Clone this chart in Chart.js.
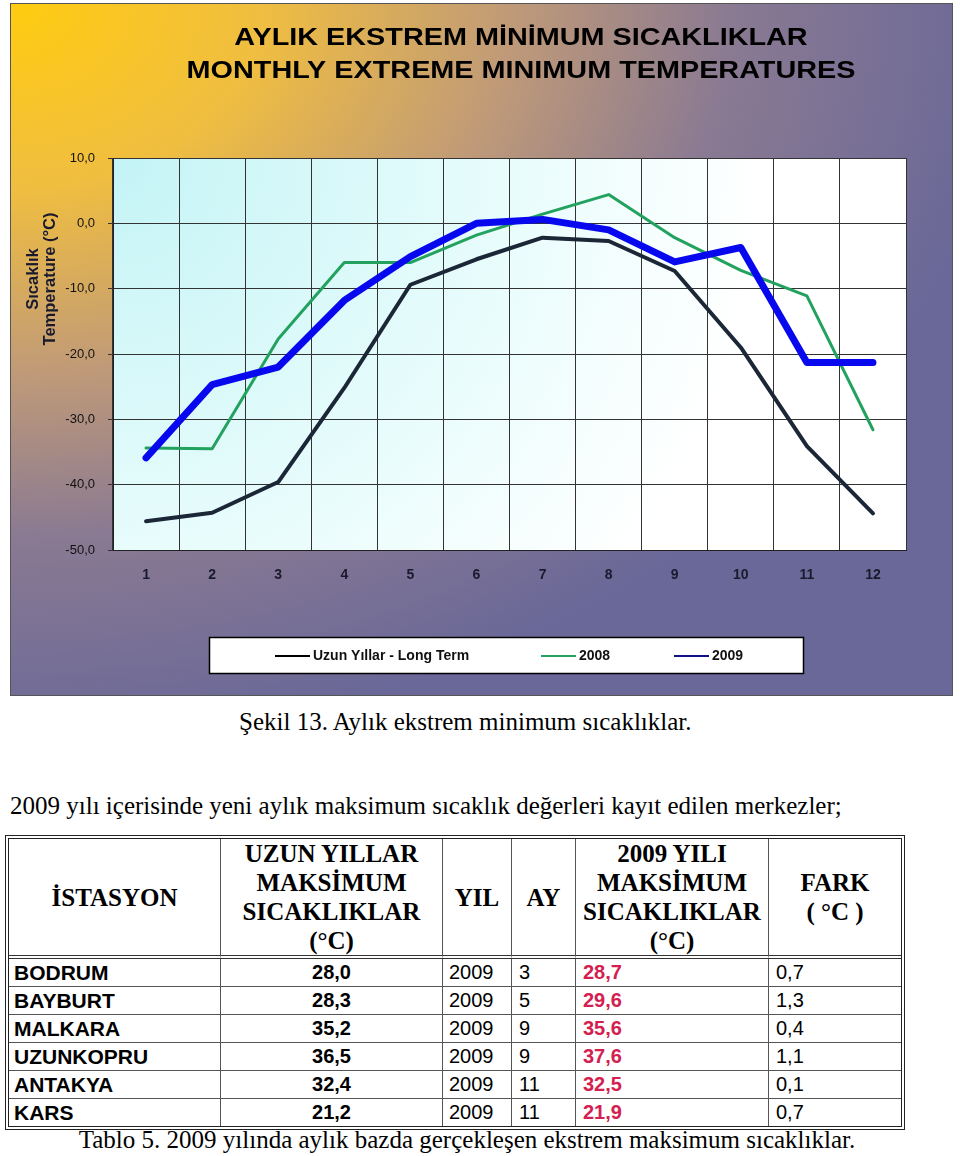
<!DOCTYPE html>
<html>
<head>
<meta charset="utf-8">
<script src="https://cdn.jsdelivr.net/npm/chart.js@4.4.1/dist/chart.umd.min.js"></script>
<style>
  body { margin: 0; background: #fff; width: 960px; height: 1156px; position: relative; overflow: hidden; }
  #chartBox { position: absolute; left: 0; top: 0; width: 960px; height: 700px; }
  .serif { position: absolute; font-family: "Liberation Serif", "Times New Roman", serif; font-size: 25px; line-height: 25px; color: #000; white-space: nowrap; }
  #tbl { position: absolute; left: 5px; top: 835px; border-collapse: separate; border-spacing: 0; border: 4px double #222; }
  #tbl th { font-family: "Liberation Serif", serif; font-weight: bold; font-size: 25px; line-height: 29px; height: 116px; padding: 0; text-align: center; vertical-align: middle; border-right: 1px solid #555; border-bottom: 4px double #333; }
  #tbl td { font-family: "Liberation Sans", Arial, sans-serif; font-size: 20px; height: 27px; padding: 0; border-right: 1px solid #555; border-bottom: 1px solid #555; white-space: nowrap; }
  #tbl tr:last-child td { border-bottom: none; }
  #tbl th:last-child, #tbl td:last-child { border-right: none; }
</style>
</head>
<body>
<div id="chartBox"><canvas id="lineChart" width="960" height="700"></canvas></div>

<div class="serif" style="left:239px; top:709px;">Şekil 13. Aylık ekstrem minimum sıcaklıklar.</div>
<div class="serif" style="left:10px; top:793px;">2009 yılı içerisinde yeni aylık maksimum sıcaklık değerleri kayıt edilen merkezler;</div>

<table id="tbl">
  <thead>
    <tr>
      <th style="width:211px">İSTASYON</th>
      <th style="width:221px">UZUN YILLAR<br>MAKSİMUM<br>SICAKLIKLAR<br>(°C)</th>
      <th style="width:68px">YIL</th>
      <th style="width:63px">AY</th>
      <th style="width:192px">2009 YILI<br>MAKSİMUM<br>SICAKLIKLAR<br>(°C)</th>
      <th style="width:132px">FARK<br>( °C )</th>
    </tr>
  </thead>
  <tbody id="rows"></tbody>
</table>

<div class="serif" style="left:0; width:934px; text-align:center; top:1127px;">Tablo 5. 2009 yılında aylık bazda gerçekleşen ekstrem maksimum sıcaklıklar.</div>

<script>
// Dữ liệu biểu đồ
const months = ['1', '2', '3', '4', '5', '6', '7', '8', '9', '10', '11', '12'];
const longTerm = [-45.6, -44.3, -39.6, -25.2, -9.4, -5.5, -2.2, -2.7, -7.3, -19.0, -34.1, -44.4];
const year2008 = [-34.4, -34.5, -17.7, -6.0, -6.0, -1.8, 1.4, 4.4, -2.2, -7.2, -11.1, -31.6];
const year2009 = [-35.9, -24.7, -22.0, -11.8, -5.1, 0.0, 0.6, -1.0, -5.9, -3.7, -21.3, -21.3];
const seriesLabels = ['Uzun Yıllar - Long Term', '2008', '2009'];
const titleLines = ['AYLIK EKSTREM MİNİMUM SICAKLIKLAR', 'MONTHLY EXTREME MINIMUM TEMPERATURES'];
const axisTitleLines = ['Sıcaklık', 'Temperature (°C)'];

// Dữ liệu bảng
const stations = ['BODRUM', 'BAYBURT', 'MALKARA', 'UZUNKOPRU', 'ANTAKYA', 'KARS'];
const longMax = [28.0, 28.3, 35.2, 36.5, 32.4, 21.2];
const recYears = [2009, 2009, 2009, 2009, 2009, 2009];
const recMonths = [3, 5, 9, 9, 11, 11];
const max2009 = [28.7, 29.6, 35.6, 37.6, 32.5, 21.9];
const diffs = [0.7, 1.3, 0.4, 1.1, 0.1, 0.7];

const fmt = v => v.toFixed(1).replace('.', ',');

// Tạo các hàng của bảng
const tbody = document.getElementById('rows');
stations.forEach((st, i) => {
    const tr = document.createElement('tr');
    tr.innerHTML =
        `<td style="font-weight:bold;font-size:21px;padding-left:5px">${st}</td>` +
        `<td style="font-weight:bold;text-align:center">${fmt(longMax[i])}</td>` +
        `<td style="padding-left:6px">${recYears[i]}</td>` +
        `<td style="padding-left:7px">${recMonths[i]}</td>` +
        `<td style="font-weight:bold;color:#d42050;padding-left:7px">${fmt(max2009[i])}</td>` +
        `<td style="padding-left:7px">${fmt(diffs[i])}</td>`;
    tbody.appendChild(tr);
});

// Nền khung và vùng vẽ
const backgroundPlugin = {
    id: 'backgroundPlugin',
    beforeDraw(chart) {
        const ctx = chart.ctx;
        const a = chart.chartArea;
        ctx.save();
        ctx.translate(10, 3);
        ctx.scale(1, 0.74);
        let g = ctx.createRadialGradient(0, 0, 0, 0, 0, 1000);
        g.addColorStop(0, '#ffcc10');
        g.addColorStop(0.25, '#f0be40');
        g.addColorStop(0.5, '#c09a78');
        g.addColorStop(0.72, '#8a7a92');
        g.addColorStop(1, '#6a6898');
        ctx.fillStyle = g;
        ctx.fillRect(0, 0, 943, 693 / 0.74);
        ctx.restore();
        ctx.save();
        ctx.strokeStyle = '#555';
        ctx.lineWidth = 1;
        ctx.strokeRect(10.5, 3.5, 942, 692);
        g = ctx.createRadialGradient(a.left, a.top, 0, a.left, a.top, 650);
        g.addColorStop(0, '#c4f4f6');
        g.addColorStop(0.6, '#e8fcfc');
        g.addColorStop(1, '#ffffff');
        ctx.fillStyle = g;
        ctx.fillRect(a.left, a.top, a.right - a.left, a.bottom - a.top);
        ctx.restore();
    }
};

// Tiêu đề, tiêu đề trục Y và chú thích
const textPlugin = {
    id: 'textPlugin',
    afterDraw(chart) {
        const ctx = chart.ctx;
        ctx.save();
        ctx.fillStyle = '#000';
        ctx.textAlign = 'center';
        ctx.textBaseline = 'middle';
        ctx.font = 'bold 24px "Liberation Sans", Arial, sans-serif';
        [38.5, 71.5].forEach((y, i) => {
            ctx.save();
            ctx.translate(521, y);
            ctx.scale(1.2, 1);
            ctx.fillText(titleLines[i], 0, 0);
            ctx.restore();
        });

        ctx.font = 'bold 16.5px "Liberation Sans", Arial, sans-serif';
        ctx.fillStyle = '#1a1a2e';
        [33, 50].forEach((x, i) => {
            ctx.save();
            ctx.translate(x, 279);
            ctx.rotate(-Math.PI / 2);
            ctx.fillText(axisTitleLines[i], 0, 0);
            ctx.restore();
        });

        // Hộp chú thích
        ctx.fillStyle = '#fff';
        ctx.fillRect(209, 637, 595, 37);
        ctx.strokeStyle = '#000';
        ctx.lineWidth = 1.5;
        ctx.strokeRect(209.5, 637.5, 594, 36);
        const xs = [275, 541, 674];
        ctx.font = 'bold 14px "Liberation Sans", Arial, sans-serif';
        ctx.textAlign = 'left';
        chart.data.datasets.forEach((ds, i) => {
            ctx.strokeStyle = ds.legendColor;
            ctx.lineWidth = 2;
            ctx.beginPath();
            ctx.moveTo(xs[i], 656);
            ctx.lineTo(xs[i] + 35, 656);
            ctx.stroke();
            ctx.fillStyle = '#111';
            ctx.fillText(ds.label, xs[i] + 38, 656);
        });
        ctx.restore();
    }
};

const ctx = document.getElementById('lineChart').getContext('2d');
const lineChart = new Chart(ctx, {
    type: 'line',
    data: {
        labels: months,
        datasets: [
            { label: seriesLabels[0], data: longTerm, borderColor: '#1b2636', legendColor: '#000', borderWidth: 4, order: 3 },
            { label: seriesLabels[1], data: year2008, borderColor: '#22a25e', legendColor: '#22a25e', borderWidth: 3, order: 2 },
            { label: seriesLabels[2], data: year2009, borderColor: '#0808ee', legendColor: '#10108a', borderWidth: 7, order: 1 }
        ]
    },
    options: {
        responsive: false,
        animation: false,
        devicePixelRatio: 1,
        layout: { padding: { top: 158, left: 0, right: 54, bottom: 110 } },
        elements: {
            point: { radius: 0 },
            line: { tension: 0, borderCapStyle: 'round', borderJoinStyle: 'round' }
        },
        plugins: {
            legend: { display: false },
            title: { display: false },
            tooltip: { enabled: false }
        },
        scales: {
            x: {
                offset: true,
                grid: { offset: true, color: '#333', lineWidth: 1, drawTicks: false },
                border: { color: '#222' },
                ticks: {
                    padding: 17,
                    color: '#1a1a2e',
                    font: { family: '"Liberation Sans", Arial, sans-serif', size: 14, weight: 'bold' }
                },
                afterFit: scale => { scale.height = 40; }
            },
            y: {
                min: -50,
                max: 10,
                grid: { color: '#333', lineWidth: 1, tickLength: 5 },
                border: { color: '#222' },
                ticks: {
                    stepSize: 10,
                    padding: 13,
                    color: '#111',
                    font: { family: '"Liberation Sans", Arial, sans-serif', size: 13 },
                    callback: value => fmt(value)
                },
                afterFit: scale => { scale.width = 113; }
            }
        }
    },
    plugins: [backgroundPlugin, textPlugin]
});
</script>
</body>
</html>
